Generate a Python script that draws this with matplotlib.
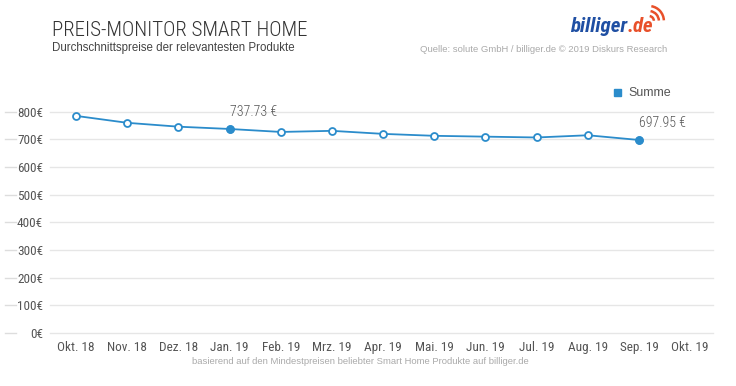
import matplotlib.pyplot as plt
from matplotlib.patches import Arc

monate = ["Okt. 18", "Nov. 18", "Dez. 18", "Jan. 19", "Feb. 19", "Mrz. 19", "Apr. 19",
          "Mai. 19", "Jun. 19", "Jul. 19", "Aug. 19", "Sep. 19", "Okt. 19"]
summe = [785, 760, 746, 737.73, 727, 731, 720, 713, 710, 707, 715, 697.95]
y_ticks = [0, 100, 200, 300, 400, 500, 600, 700, 800]
hervorgehoben = [3, 11]

blau = "#2b8ccb"
cond = dict(family=["Roboto Condensed", "Archivo Narrow", "Barlow Condensed", "DejaVu Sans"])
arial = dict(family=["Liberation Sans", "Arimo", "DejaVu Sans"])

fig = plt.figure(figsize=(7.36, 3.86), dpi=100)
ax = fig.add_axes([0.068, 0.1373, 0.901, 0.609])
ax.set_xlim(-0.51, 12.45)
ax.set_ylim(0, 850)

# grid lines
for t in y_ticks:
    ax.axhline(t, color="#e6e6e6", lw=1, zorder=0, clip_on=False)
    # little dash left of the label
    ax.plot([-0.068, -0.051], [t, t], color="#dddddd", lw=1,
            transform=ax.get_yaxis_transform(), clip_on=False)

x = list(range(len(summe)))
ax.plot(x, summe, color=blau, lw=1.3, zorder=2, clip_on=False)
ax.plot(x, summe, "o", ms=5, mfc="white", mec=blau, mew=1.3, zorder=3, linestyle="none")
ax.plot([x[i] for i in hervorgehoben], [summe[i] for i in hervorgehoben], "o", ms=5,
        mfc=blau, mec=blau, zorder=4, linestyle="none")

for i in hervorgehoben:
    ax.annotate(f"{summe[i]:.2f} €", (x[i], summe[i]), xytext=(0, 7), textcoords="offset points",
                ha="left", va="bottom", fontsize=10, color="#555555", fontweight="light", **cond)

ax.set_xticks(range(len(monate)))
ax.set_xticklabels(monate, fontsize=9.5, color="#555555", **cond)
ax.set_yticks(y_ticks)
ax.set_yticklabels([f"{t}€" for t in y_ticks], fontsize=9.5, color="#555555", **cond)
ax.tick_params(length=0, pad=6)
ax.tick_params(axis="y", pad=5)
for s in ax.spines.values():
    s.set_visible(False)

# legend
fig.add_artist(plt.Rectangle((614 / 736, 1 - 96 / 386), 7 / 736, 7 / 386, color=blau))
fig.text(628 / 736, 1 - 92.5 / 386, "Summe", fontsize=9, color="#555555", va="center", **arial)

# titles
fig.text(52 / 736, 1 - 31 / 386, "PREIS-MONITOR SMART HOME", fontsize=15, color="#333333",
         va="center", fontweight="light", **cond)
fig.text(52 / 736, 1 - 48 / 386, "Durchschnittspreise der relevantesten Produkte", fontsize=8.3,
         color="#444444", va="center", **arial)
fig.text(667 / 736, 1 - 49 / 386, "Quelle: solute GmbH / billiger.de © 2019 Diskurs Research",
         fontsize=6.8, color="#aaaaaa", va="center", ha="right", **arial)
fig.text(0.49, 1 - 361 / 386,
         "basierend auf den Mindestpreisen beliebter Smart Home Produkte auf billiger.de",
         fontsize=6.8, color="#aaaaaa", ha="center", va="center", **arial)

# logo
t1 = fig.text(570 / 736, 1 - 27 / 386, "billiger", fontsize=15, color="#1f4fa3",
              fontweight="bold", style="italic", va="center", **cond)
fig.canvas.draw()
bb = t1.get_window_extent()
t2 = fig.text(bb.x1 / 736, 1 - 27 / 386, ".de", fontsize=15, color="#e8502a",
              fontweight="bold", style="italic", va="center", **cond)
fig.canvas.draw()
bb2 = t2.get_window_extent()
cx, cy = bb2.x1 - 4, 386 - 21
for r in (5, 10, 15):
    fig.add_artist(Arc((cx / 736, cy / 386), 2 * r / 736, 2 * r / 386, theta1=5, theta2=85,
                       color="#e8502a", lw=1.8, transform=fig.transFigure))

fig.savefig("out.png", dpi=100)
